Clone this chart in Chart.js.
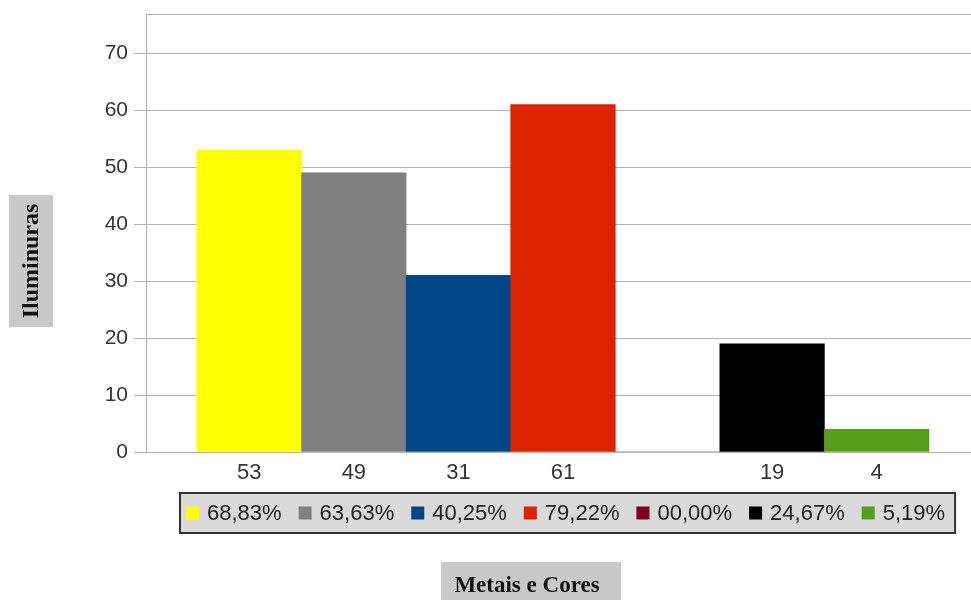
<!DOCTYPE html>
<html><head><meta charset="utf-8">
<script src="https://cdn.jsdelivr.net/npm/chart.js@4/dist/chart.umd.min.js"></script>
<style>html,body{margin:0;padding:0;background:#fff}canvas{display:block}</style>
</head><body>
<canvas id="c" width="971" height="600"></canvas>
<script>
const tickLabels = ['53', '49', '31', '61', '', '19', '4'];
const values = [53, 49, 31, 61, 0, 19, 4];
const legendLabels = ['68,83%', '63,63%', '40,25%', '79,22%', '00,00%', '24,67%', '5,19%'];
const barColors = ['#ffff00', '#808080', '#004586', '#dc2300', '#7e0021', '#000000', '#579d1c'];
const yTicks = [0, 10, 20, 30, 40, 50, 60, 70];
const yTitle = 'Iluminuras';
const xTitle = 'Metais e Cores';

const GRID = '#b3b3b3';
const SANS = '"Liberation Sans", Arial, sans-serif';
const SERIF = '"Liberation Serif", "Times New Roman", serif';

const decorPlugin = {
  id: 'decor',
  afterDraw(chart) {
    const ctx = chart.ctx;
    const ca = chart.chartArea;
    ctx.save();
    // top frame line
    ctx.strokeStyle = GRID;
    ctx.lineWidth = 1;
    ctx.beginPath();
    ctx.moveTo(ca.left, Math.round(ca.top) + 0.5);
    ctx.lineTo(ca.right, Math.round(ca.top) + 0.5);
    ctx.stroke();

    // y title box
    ctx.fillStyle = '#c9c9c9';
    ctx.fillRect(9, 195, 44, 132);
    ctx.save();
    ctx.translate(32, 261);
    ctx.rotate(-Math.PI / 2);
    ctx.fillStyle = '#111';
    ctx.font = 'bold 24px ' + SERIF;
    ctx.textAlign = 'center';
    ctx.textBaseline = 'middle';
    ctx.fillText(yTitle, 0, 0);
    ctx.restore();

    // x title box
    ctx.fillStyle = '#c9c9c9';
    ctx.fillRect(441, 562, 180, 40);
    ctx.fillStyle = '#111';
    ctx.font = 'bold 23px ' + SERIF;
    ctx.textAlign = 'center';
    ctx.textBaseline = 'alphabetic';
    ctx.fillText(xTitle, 527, 592);

    // legend
    ctx.font = '22px ' + SANS;
    const marker = 13, gap = 8, itemGap = 17, padL = 6, padR = 10;
    const widths = legendLabels.map(t => ctx.measureText(t).width);
    let total = 0;
    widths.forEach((w, i) => { total += marker + gap + w + (i ? itemGap : 0); });
    const boxW = padL + total + padR;
    const boxTop = 493, boxH = 40;
    const boxLeft = Math.round(567.5 - boxW / 2);
    ctx.fillStyle = '#dadada';
    ctx.fillRect(boxLeft, boxTop, boxW, boxH);
    ctx.strokeStyle = '#333';
    ctx.lineWidth = 2;
    ctx.strokeRect(boxLeft, boxTop, boxW, boxH);
    let x = boxLeft + padL;
    const cy = boxTop + boxH / 2;
    ctx.textAlign = 'left';
    ctx.textBaseline = 'middle';
    legendLabels.forEach((t, i) => {
      ctx.fillStyle = barColors[i];
      ctx.fillRect(x, cy - 6.5, marker, marker);
      ctx.fillStyle = '#222';
      ctx.fillText(t, x + marker + gap, cy + 1);
      x += marker + gap + widths[i] + itemGap;
    });
    ctx.restore();
  }
};

new Chart(document.getElementById('c'), {
  type: 'bar',
  data: {
    datasets: [{
      data: values.map((v, i) => ({ x: i, y: v })),
      backgroundColor: barColors,
      borderWidth: 0,
      barPercentage: 1,
      categoryPercentage: 1
    }]
  },
  options: {
    responsive: false,
    devicePixelRatio: 1,
    animation: false,
    layout: { padding: { top: 14, left: 0, right: 0, bottom: 0 } },
    plugins: { legend: { display: false }, tooltip: { enabled: false } },
    scales: {
      x: {
        type: 'linear',
        offset: false,
        min: -0.988,
        max: 6.902,
        afterBuildTicks: s => { s.ticks = values.map((v, i) => ({ value: i })); },
        afterFit: s => { s.height = 148; s.paddingLeft = 0; s.paddingRight = 0; },
        grid: { display: false, drawTicks: false, offset: false },
        border: { display: true, color: GRID, width: 1 },
        ticks: {
          autoSkip: false, maxRotation: 0, padding: 8,
          font: { family: SANS, size: 22 }, color: '#333',
          callback: (v) => tickLabels[Math.round(v)] ?? ''
        }
      },
      y: {
        min: 0,
        max: 76.9,
        afterBuildTicks: s => { s.ticks = yTicks.map(v => ({ value: v })); },
        afterFit: s => { s.width = 146; s.paddingTop = 0; s.paddingBottom = 0; },
        grid: { color: GRID, tickColor: GRID, tickLength: 12, lineWidth: 1 },
        border: { display: true, color: GRID, width: 1 },
        ticks: { padding: 6, font: { family: SANS, size: 21 }, color: '#333' }
      }
    }
  },
  plugins: [decorPlugin]
});
</script>
</body></html>
